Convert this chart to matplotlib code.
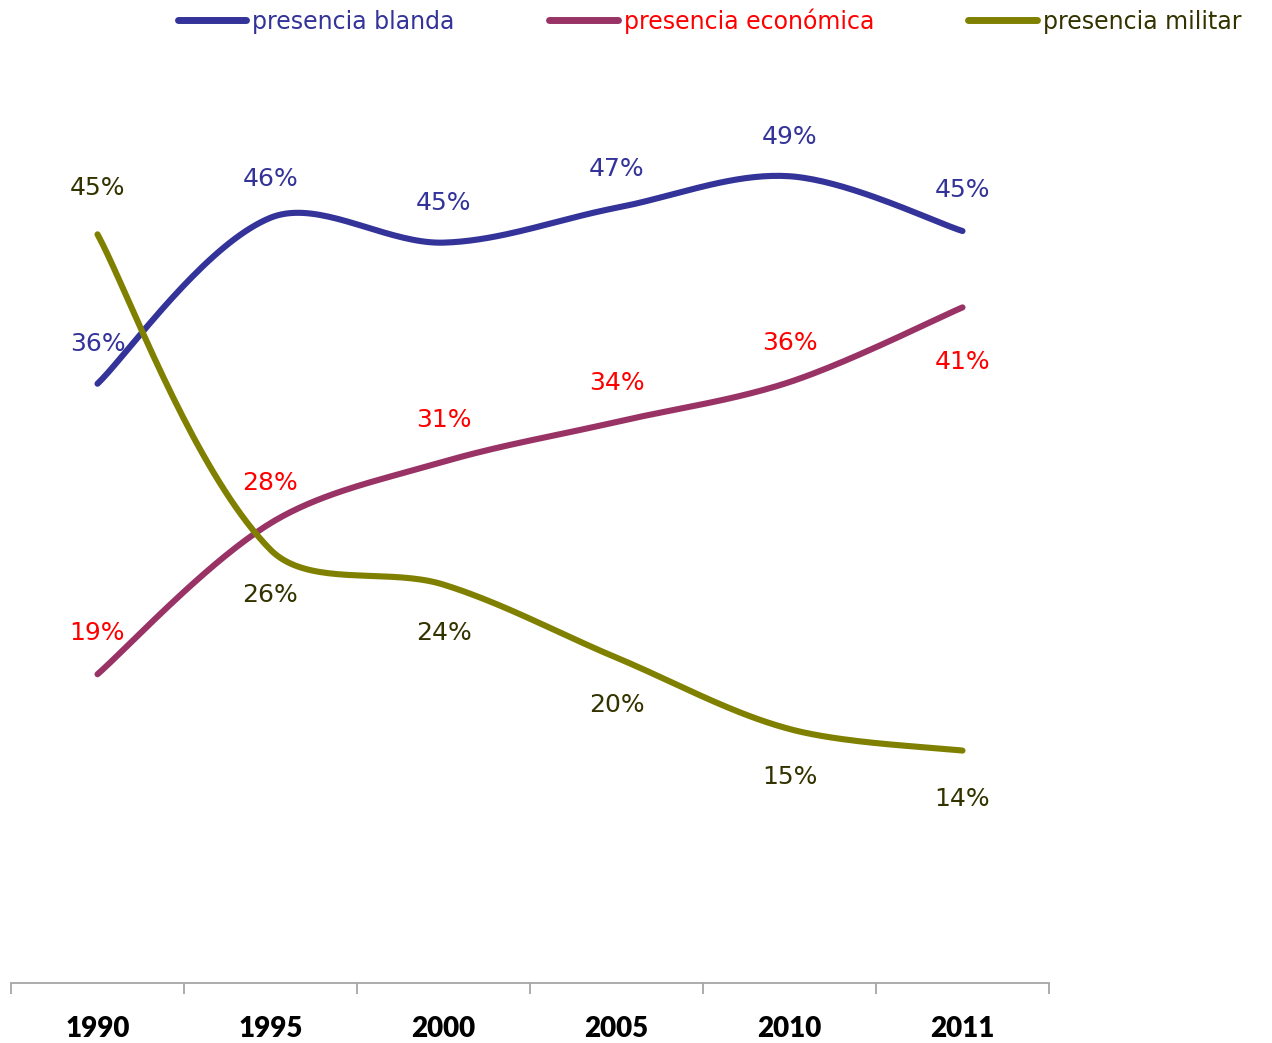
import numpy as np
import matplotlib
matplotlib.use("Agg")
import matplotlib.pyplot as plt

years = ["1990", "1995", "2000", "2005", "2010", "2011"]
blanda = [36.1, 46.1, 44.6, 46.7, 48.6, 45.3]
economica = [18.6, 27.7, 31.4, 33.8, 36.2, 40.7]
militar = [45.1, 26.1, 24.0, 19.6, 15.3, 14.0]

names = ["presencia blanda", "presencia económica", "presencia militar"]
line_colors = ["#333399", "#993366", "#808000"]
text_colors = ["#333399", "#FF0000", "#333300"]
# label offset from the point, in pixels (+ above, - below)
label_offsets = [
    [40, 39, 40, 39, 39, 41],
    [41, 40, 42, 39, 39, -55],
    [46, -45, -48, -47, -48, -48],
]

plt.rcParams['font.family'] = ['DejaVu Sans']

PX_X = 173.0   # pixels per category
PX_Y = 16.6    # pixels per percent


def smooth(xs, ys, n=40):
    # excel-like bezier smoothing, control points worked out in pixel space
    px = np.asarray(xs, float) * PX_X
    py = np.asarray(ys, float) * PX_Y
    pts = np.column_stack([px, py])
    m = len(pts)
    out = [pts[0]]
    for i in range(m - 1):
        p0 = pts[max(i - 1, 0)]
        p1 = pts[i]
        p2 = pts[i + 1]
        p3 = pts[min(i + 2, m - 1)]
        d01 = np.linalg.norm(p1 - p0)
        d12 = np.linalg.norm(p2 - p1)
        d23 = np.linalg.norm(p3 - p2)
        f1 = d12 / (d01 + d12) / 3 if d01 > 0 else 1 / 6
        f2 = d12 / (d12 + d23) / 3 if d23 > 0 else 1 / 6
        c1 = p1 + (p2 - p0) * f1
        c2 = p2 - (p3 - p1) * f2
        t = np.linspace(0, 1, n)[1:, None]
        seg = ((1 - t) ** 3) * p1 + 3 * ((1 - t) ** 2) * t * c1 \
            + 3 * (1 - t) * t ** 2 * c2 + t ** 3 * p2
        out.extend(seg)
    out = np.array(out)
    return out[:, 0] / PX_X, out[:, 1] / PX_Y


fig = plt.figure(figsize=(12.72, 10.43), dpi=100)
ax = fig.add_axes([11 / 1272, 60 / 1043, 1038 / 1272, 913 / 1043])

x = np.arange(len(years))
series = [blanda, economica, militar]
for vals, name, lc, tc, offs in zip(series, names, line_colors, text_colors, label_offsets):
    sx, sy = smooth(x, vals)
    ax.plot(sx, sy, color=lc, lw=4.4, solid_capstyle='round',
            solid_joinstyle='round', label=name)
    for xi, v, o in zip(x, vals, offs):
        ax.annotate(f"{v:.0f}%", (xi, v), xytext=(0, o),
                    textcoords='offset pixels', ha='center', va='center',
                    color=tc, fontsize=18)

ax.set_xlim(-0.5, len(years) - 0.5)
ax.set_ylim(0, 55)
ax.set_yticks([])
ax.set_xticks(np.arange(-0.5, len(years), 1.0))
ax.set_xticklabels([])
ax.set_xticks(x, minor=True)
ax.set_xticklabels(years, minor=True, fontsize=20, fontweight='heavy',
                   family='Lato')
ax.tick_params(axis='x', which='major', direction='out', length=8,
               width=1.3, color='#a6a6a6')
ax.tick_params(axis='x', which='minor', length=0, pad=24)
for side in ['top', 'right', 'left']:
    ax.spines[side].set_visible(False)
ax.spines['bottom'].set_color('#a6a6a6')
ax.spines['bottom'].set_linewidth(1.3)

leg = fig.legend(loc='center left', bbox_to_anchor=(178 / 1272, 1 - 21 / 1043),
                 ncol=3, frameon=False, fontsize=17, handlelength=2.9,
                 handletextpad=0.25, columnspacing=4.0, borderaxespad=0,
                 borderpad=0)
for txt, c in zip(leg.get_texts(), text_colors):
    txt.set_color(c)
for h in leg.get_lines():
    h.set_linewidth(5)
    h.set_solid_capstyle('round')

fig.savefig("out.png", dpi=100)
